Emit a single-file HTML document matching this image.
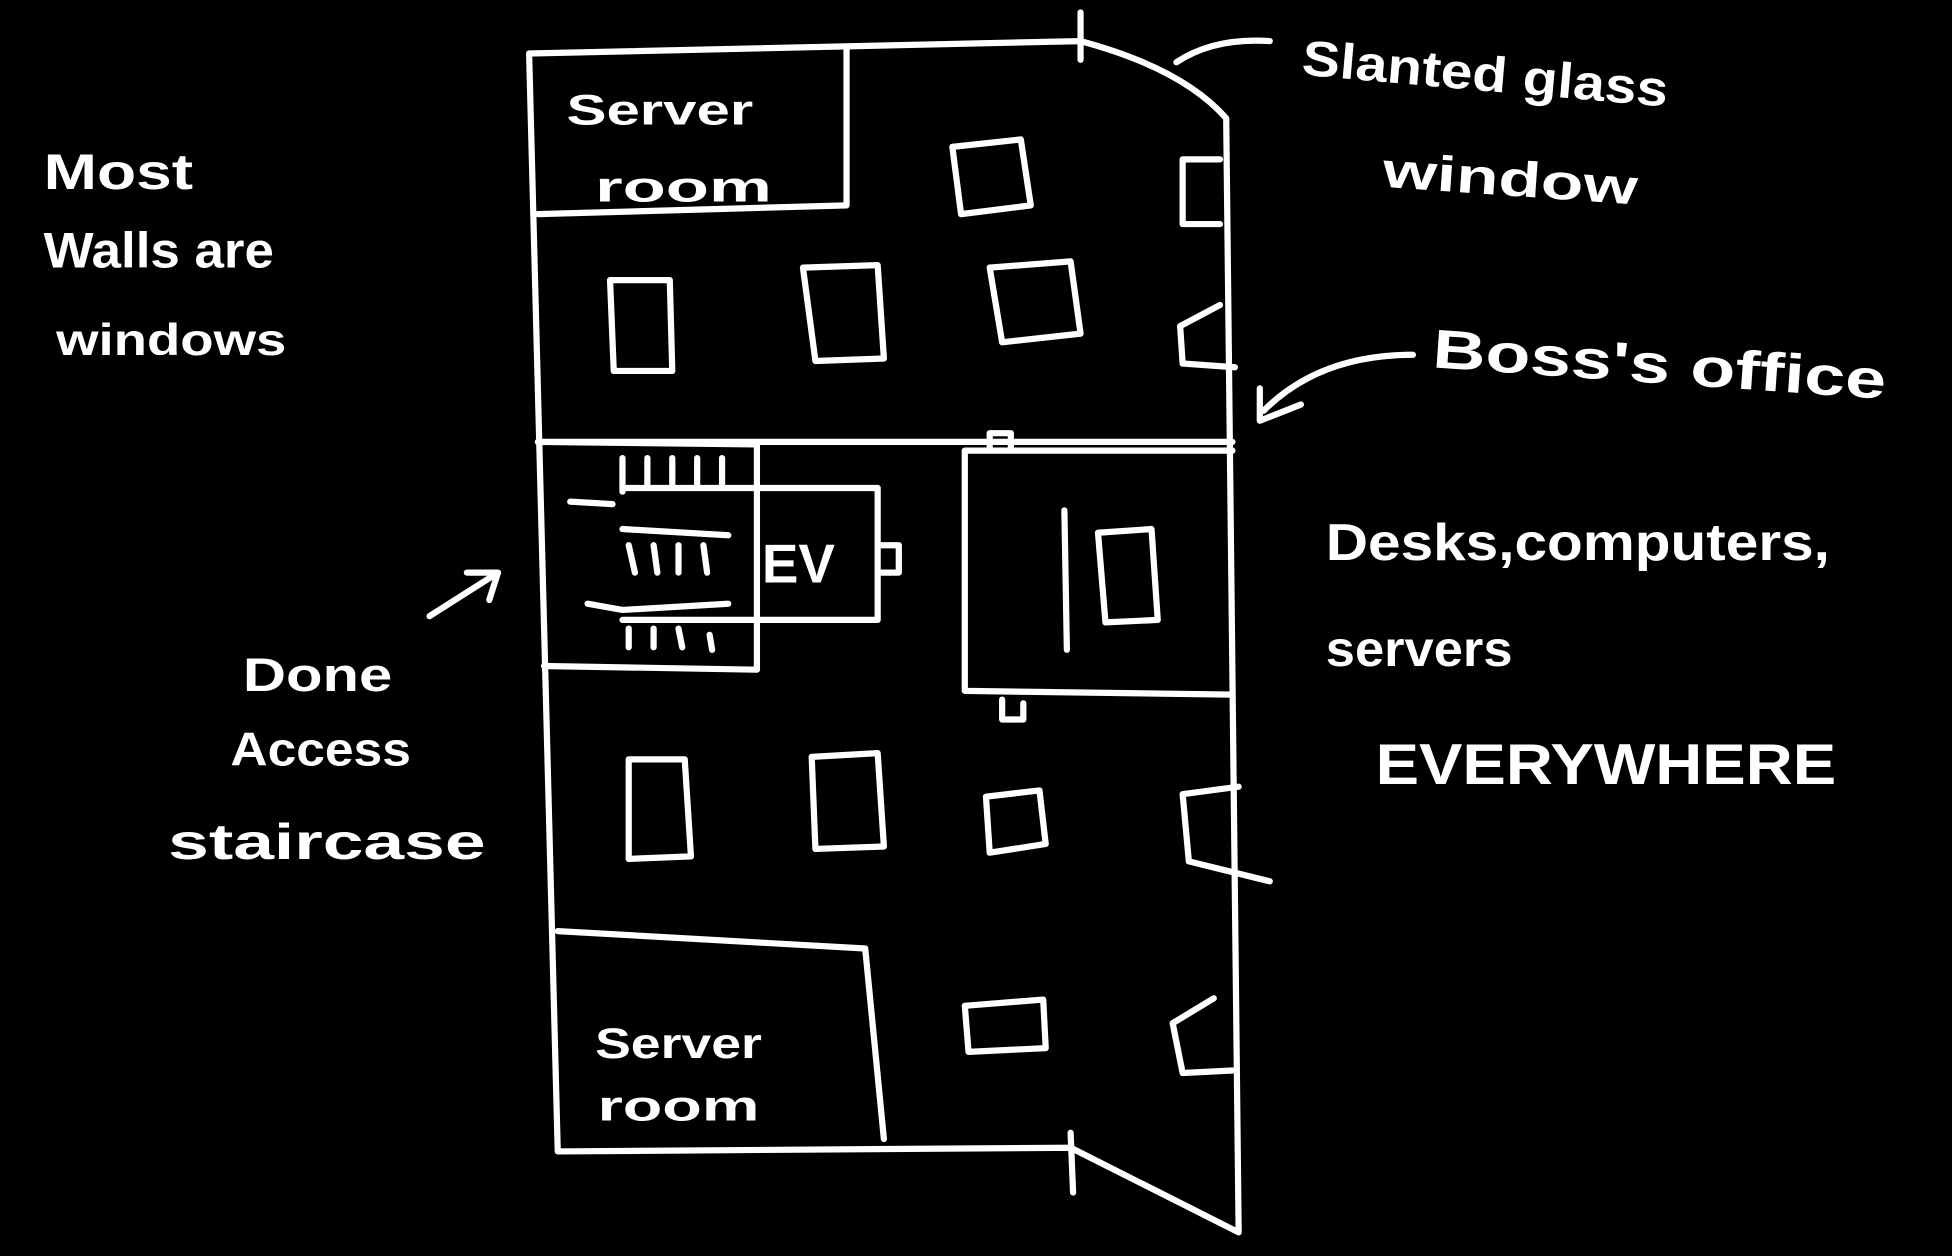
<!DOCTYPE html>
<html><head><meta charset="utf-8"><style>
html,body{margin:0;padding:0;background:#000;width:1952px;height:1256px;overflow:hidden}
svg{display:block}
text{font-family:"Liberation Sans",sans-serif;fill:#fff;font-weight:bold}
</style></head><body>
<svg width="1952" height="1256" viewBox="0 0 1568 1009">
<g fill="none" stroke="#fff" stroke-width="5" stroke-linecap="round" stroke-linejoin="round">
  <path d="M425,43 L868,33 Q950,55 985,95 L995,990 L860,922 L448,925 L425,43"/>
  <path d="M868,10 L868,48"/>
  <path d="M860,910 L862,958"/>
  <path d="M680,38 L680,165 L432,172"/>
  <path d="M448,748 L695,762 L710,915"/>
  <path d="M432,355 L990,355 M432,355 L608,357 L608,538 L437,535"/>
  <path d="M500,392 L705,392 L705,498 L500,498"/>
  <path d="M500,368 L500,395 M520,368 L520,392 M540,368 L540,392 M560,368 L560,392 M580,368 L580,392 M500,425 L585,430 M458,403 L492,405 M505,438 L510,460 M525,438 L528,460 M545,438 L545,460 M565,438 L568,460 M472,485 L500,490 L585,485 M505,505 L505,520 M525,505 L525,520 M545,505 L548,520 M570,510 L572,522"/>
  <path d="M775,362 L775,555 L990,558 M775,362 L990,362 M855,410 L857,522 M882,428 L925,425 L930,498 L888,500 Z M795,360 L795,348 L812,348 L812,360 M805,562 L805,578 L822,578 L822,565"/>
  <path d="M708,438 L722,438 L722,460 L708,460"/>
  <path d="M1135,285 Q1060,285 1015,330 M1012,312 L1012,338 L1045,325"/>
  <path d="M345,495 L400,460 M375,460 L400,460 L393,482"/>
  <path d="M945,50 Q975,30 1020,33"/>
  <path d="M765,118 L820,112 L828,165 L772,172 Z"/>
  <path d="M490,225 L538,225 L540,298 L493,298 Z"/>
  <path d="M645,215 L705,213 L710,288 L655,290 Z"/>
  <path d="M795,215 L860,210 L868,268 L805,275 Z"/>
  <path d="M505,610 L550,610 L555,688 L505,690 Z"/>
  <path d="M652,608 L705,605 L710,680 L655,682 Z"/>
  <path d="M792,640 L835,635 L840,678 L795,685 Z"/>
  <path d="M775,808 L838,803 L840,842 L778,845 Z"/>
  <path d="M980,128 L950,128 L950,180 L980,180"/>
  <path d="M980,245 L948,262 L950,292 L992,295"/>
  <path d="M995,632 L950,638 L955,692 L1020,708"/>
  <path d="M975,802 L942,822 L950,862 L990,860"/>
</g>
<text x="455" y="100" font-size="34" textLength="150" lengthAdjust="spacingAndGlyphs">Server</text>
<text x="478" y="162" font-size="34" textLength="142" lengthAdjust="spacingAndGlyphs">room</text>
<text x="612" y="468" font-size="44">EV</text>
<text x="478" y="850" font-size="34" textLength="134" lengthAdjust="spacingAndGlyphs">Server</text>
<text x="480" y="900" font-size="34" textLength="130" lengthAdjust="spacingAndGlyphs">room</text>
<text x="35" y="152" font-size="40" textLength="120" lengthAdjust="spacingAndGlyphs">Most</text>
<text x="35" y="215" font-size="40" textLength="185" lengthAdjust="spacingAndGlyphs">Walls are</text>
<text x="45" y="285" font-size="36" textLength="185" lengthAdjust="spacingAndGlyphs">windows</text>
<text x="195" y="555" font-size="38" textLength="120" lengthAdjust="spacingAndGlyphs">Done</text>
<text x="185" y="615" font-size="38" textLength="145" lengthAdjust="spacingAndGlyphs">Access</text>
<text x="135" y="690" font-size="40" textLength="255" lengthAdjust="spacingAndGlyphs">staircase</text>
<text x="1045" y="60" font-size="40" textLength="295" lengthAdjust="spacingAndGlyphs" transform="rotate(5 1045 60)">Slanted glass</text>
<text x="1110" y="150" font-size="40" textLength="205" lengthAdjust="spacingAndGlyphs" transform="rotate(4 1110 150)">window</text>
<text x="1150" y="295" font-size="44" textLength="365" lengthAdjust="spacingAndGlyphs" transform="rotate(4 1150 295)">Boss's office</text>
<text x="1065" y="450" font-size="42" textLength="405" lengthAdjust="spacingAndGlyphs">Desks,computers,</text>
<text x="1065" y="535" font-size="40" textLength="150" lengthAdjust="spacingAndGlyphs">servers</text>
<text x="1105" y="630" font-size="46" textLength="370" lengthAdjust="spacingAndGlyphs">EVERYWHERE</text>
</svg>
</body></html>
